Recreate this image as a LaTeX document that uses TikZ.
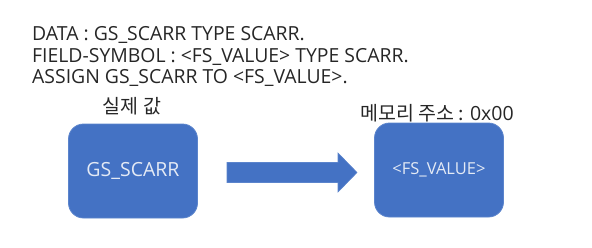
\documentclass[tikz,border=0pt]{standalone}
\usepackage{fontspec}
\setmainfont{Open Sans}
\newfontfamily\kofont{Noto Sans CJK KR}
\definecolor{boxblue}{HTML}{4472C4}
\definecolor{boxedge}{HTML}{5B84CC}
\definecolor{boxtext}{HTML}{E4EAF5}
\definecolor{ink}{HTML}{262626}
\begin{document}
\begin{tikzpicture}[x=1pt,y=-1pt,
  codeline/.style={anchor=base west,inner sep=0pt,text=ink,font=\fontsize{19.4}{21}\selectfont},
  label/.style={anchor=center,inner sep=0pt,text=ink,font=\fontsize{19.5}{21}\selectfont},
  membox/.style={draw=boxedge,fill=boxblue,line width=0.8pt,rounded corners=15pt,
    minimum width=129pt,minimum height=94pt,inner sep=0pt,text=boxtext,
    font=\fontsize{19.5}{21}\selectfont},
  blockarrow/.style={fill=boxblue,draw=boxedge,line width=0.6pt}]
  \useasboundingbox (0,0) rectangle (592,247);
  % source code lines
  \node[codeline] (l1) at (32,40) {DATA : GS\_SCARR TYPE SCARR.};
  \node[codeline] (l2) at (32,62) {FIELD-SYMBOL : <FS\_VALUE> TYPE SCARR.};
  \node[codeline] (l3) at (32,83) {ASSIGN GS\_SCARR TO <FS\_VALUE>.};
  % memory boxes
  \node[membox] (src) at (133,171) {GS\_SCARR};
  \node[membox,font=\fontsize{16.5}{18}\selectfont] (dst) at (439,170) {<FS\_VALUE>};
  \node[label] (srclbl) at (132,106) {\kofont 실제 값};
  \node[label] (dstlbl) at (437,113) {\kofont 메모리 주소 : \normalfont 0x00};
  % assignment arrow (block arrow between the boxes)
  \coordinate (tail) at (227,172.5);
  \coordinate (tip) at (357,172.5);
  \draw[blockarrow] ([yshift=-10pt]tail) -- ([shift={(-19pt,-10pt)}]tip)
    -- ([shift={(-19pt,-19.5pt)}]tip) -- (tip) -- ([shift={(-19pt,19.5pt)}]tip)
    -- ([shift={(-19pt,10pt)}]tip) -- ([yshift=10pt]tail) -- cycle;
\end{tikzpicture}
\end{document}
